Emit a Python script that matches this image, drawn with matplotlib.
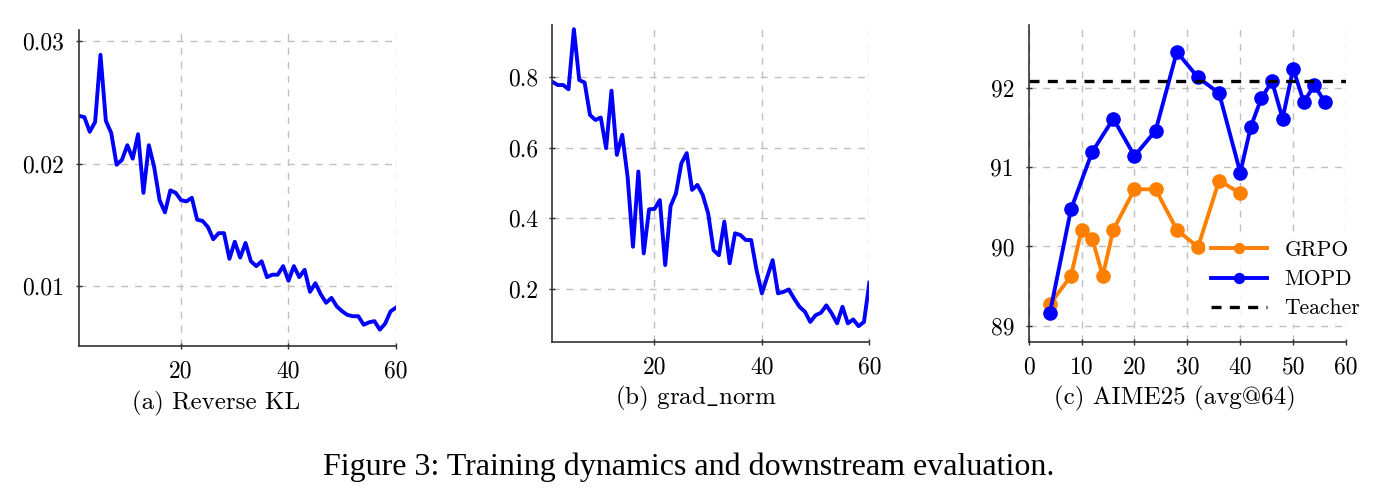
import matplotlib.pyplot as plt

plt.rcParams['mathtext.fontset'] = 'cm'

# training steps (x axis of panels a and b)
steps = list(range(1, 61))

reverse_kl = [0.0239, 0.0238, 0.0226, 0.0234, 0.0289, 0.0235, 0.0225, 0.0199, 0.0203, 0.0215,
              0.0204, 0.0224, 0.0176, 0.0215, 0.0197, 0.0170, 0.0160, 0.0178, 0.0176, 0.0170,
              0.0169, 0.0172, 0.0154, 0.0153, 0.0148, 0.0138, 0.0143, 0.0143, 0.0122, 0.0136,
              0.0123, 0.0135, 0.0120, 0.0116, 0.0120, 0.0107, 0.0109, 0.0109, 0.0116, 0.0104,
              0.0116, 0.0107, 0.0113, 0.0095, 0.0102, 0.0093, 0.0086, 0.0090, 0.0083, 0.0079,
              0.0076, 0.0075, 0.0075, 0.0068, 0.0070, 0.0071, 0.0064, 0.0069, 0.0079, 0.0082]

grad_norm = [0.786, 0.777, 0.777, 0.765, 0.935, 0.791, 0.784, 0.692, 0.678, 0.685,
             0.598, 0.761, 0.579, 0.636, 0.517, 0.319, 0.532, 0.300, 0.425, 0.426,
             0.451, 0.267, 0.434, 0.470, 0.555, 0.584, 0.480, 0.494, 0.465, 0.413,
             0.309, 0.295, 0.390, 0.272, 0.357, 0.352, 0.338, 0.338, 0.253, 0.187,
             0.234, 0.281, 0.187, 0.191, 0.198, 0.172, 0.149, 0.135, 0.106, 0.125,
             0.132, 0.153, 0.130, 0.102, 0.149, 0.102, 0.113, 0.094, 0.106, 0.217]

# AIME25 avg@64
mopd_steps = [4, 8, 12, 16, 20, 24, 28, 32, 36, 40, 42, 44, 46, 48, 50, 52, 54, 56]
mopd_acc = [89.16, 90.47, 91.19, 91.61, 91.14, 91.46, 92.45, 92.13, 91.93, 90.93,
            91.51, 91.87, 92.08, 91.61, 92.24, 91.82, 92.03, 91.82]
grpo_steps = [4, 8, 10, 12, 14, 16, 20, 24, 28, 32, 36, 40]
grpo_acc = [89.27, 89.63, 90.21, 90.10, 89.63, 90.21, 90.72, 90.72, 90.21, 89.99, 90.83, 90.67]
teacher_acc = 92.08

blue = (0, 0, 1)
orange = (1, 0.5, 0)
tick_font = 'cmr10'
cap_font = 'cmr10'

fig = plt.figure(figsize=(13.81, 4.92), dpi=100)
ax_a = fig.add_axes([0.0572, 0.2967, 0.2295, 0.6423])
ax_b = fig.add_axes([0.4000, 0.3055, 0.2295, 0.6437])
ax_c = fig.add_axes([0.7449, 0.3055, 0.2298, 0.6437])


def style(ax):
    for s in ['top', 'right']:
        ax.spines[s].set_visible(False)
    for s in ['left', 'bottom']:
        ax.spines[s].set_color('#333333')
        ax.spines[s].set_linewidth(1.2)
    ax.grid(True, color='#c0c0c0', linestyle=(0, (5, 5)), linewidth=1.0)
    ax.set_axisbelow(True)
    ax.tick_params(direction='inout', length=5, width=1, color='#333333', pad=8)
    for lbl in ax.get_xticklabels() + ax.get_yticklabels():
        lbl.set_fontfamily(tick_font)
        lbl.set_fontsize(17)


# (a) Reverse KL
ax_a.plot(steps, reverse_kl, color=blue, lw=2.8)
ax_a.set_xlim(1, 60)
ax_a.set_ylim(0.00506, 0.03093)
ax_a.set_xticks([20, 40, 60])
ax_a.set_xticklabels(['20', '40', '60'])
ax_a.set_yticks([0.01, 0.02, 0.03])
ax_a.set_yticklabels(['0.01', '0.02', '0.03'])
style(ax_a)

# (b) grad_norm
ax_b.plot(steps, grad_norm, color=blue, lw=2.8)
ax_b.set_xlim(1, 60)
ax_b.set_ylim(0.05, 0.947)
ax_b.set_xticks([20, 40, 60])
ax_b.set_xticklabels(['20', '40', '60'])
ax_b.set_yticks([0.2, 0.4, 0.6, 0.8])
ax_b.set_yticklabels(['0.2', '0.4', '0.6', '0.8'])
style(ax_b)

# (c) AIME25
ax_c.plot(grpo_steps, grpo_acc, color=orange, lw=2.8, marker='o', markersize=9.5, label='GRPO')
ax_c.plot(mopd_steps, mopd_acc, color=blue, lw=2.8, marker='o', markersize=9.5, label='MOPD')
ax_c.axhline(teacher_acc, color='black', lw=2.4, linestyle=(0, (3, 2.5)), label='Teacher')
ax_c.set_xlim(0, 60)
ax_c.set_ylim(88.8, 92.79)
ax_c.set_xticks([0, 10, 20, 30, 40, 50, 60])
ax_c.set_xticklabels(['0', '10', '20', '30', '40', '50', '60'])
ax_c.set_yticks([89, 90, 91, 92])
ax_c.set_yticklabels(['89', '90', '91', '92'])
style(ax_c)
leg = ax_c.legend(loc='upper left', bbox_to_anchor=(0.555, 0.34), borderaxespad=0,
                  borderpad=0.3, handlelength=2.6, handletextpad=0.8, labelspacing=0.45,
                  markerscale=0.75, fancybox=False, framealpha=0.8, facecolor='white',
                  edgecolor='none', prop={'family': 'cmr10', 'size': 15.5})

fig.text(216 / 1381, 1 - 403 / 492, '(a) Reverse KL', ha='center', va='center',
         fontfamily=cap_font, fontsize=18)
fig.text(696 / 1381, 1 - 398 / 492, r'(b) grad$\_$norm', ha='center', va='center',
         fontfamily=cap_font, fontsize=18)
fig.text(1175 / 1381, 1 - 398 / 492, '(c) AIME25 (avg@64)', ha='center', va='center',
         fontfamily=cap_font, fontsize=18)
fig.text(689 / 1381, 1 - 467 / 492, 'Figure 3: Training dynamics and downstream evaluation.',
         ha='center', va='center', fontfamily='Liberation Serif', fontsize=23)

fig.savefig('out.png', dpi=100)
